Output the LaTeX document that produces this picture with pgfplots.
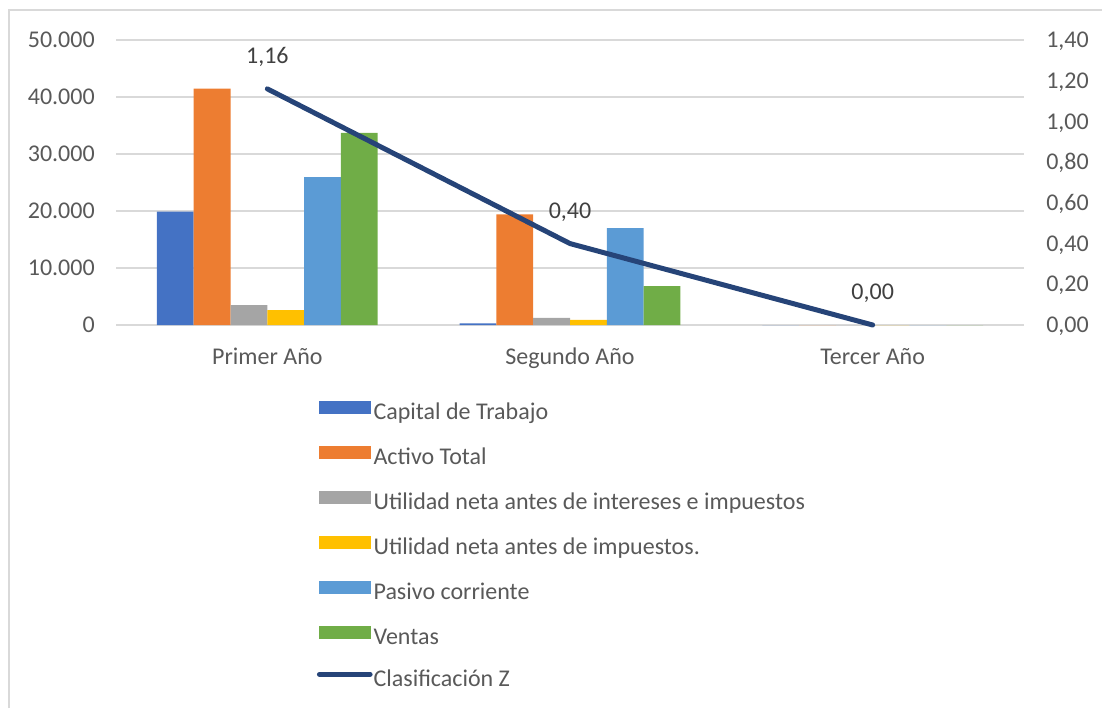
\documentclass[border=0pt]{standalone}
\usepackage{pgfplots}
\pgfplotsset{compat=1.18}
\usepackage{fontspec}
\setmainfont{Carlito}

\definecolor{cCap}{HTML}{4472C4}
\definecolor{cAct}{HTML}{ED7D31}
\definecolor{cUaii}{HTML}{A5A5A5}
\definecolor{cUai}{HTML}{FFC000}
\definecolor{cPas}{HTML}{5B9BD5}
\definecolor{cVen}{HTML}{70AD47}
\definecolor{cZ}{HTML}{264478}
\definecolor{txt}{HTML}{595959}
\definecolor{lab}{HTML}{404040}
\definecolor{gridc}{HTML}{D9D9D9}

\newcommand{\chartfont}{\fontsize{18}{21}\selectfont}

\pgfplotsset{
  /pgf/number format/assume math mode=true,
  base/.style={
    scale only axis,
    width=681pt, height=213.75pt,
    at={(87pt,287.25pt)}, anchor=south west,
    xmin=-0.5, xmax=2.5,
    axis line style={draw=none},
    major tick length=0pt,
    tick label style={color=txt, font=\chartfont},
  },
  barlegend/.style={
    legend image code/.code={\fill[##1] (0pt,0pt) rectangle (39pt,9.75pt);}},
  zlegend/.style={
    legend image code/.code={\draw[##1] (0.5pt,5pt) -- (38.5pt,5pt);}},
}

\begin{document}
\begin{tikzpicture}
\useasboundingbox (0pt,0pt) rectangle (826.5pt,531pt);
% light frame along the top and left
\draw[gridc, line width=1.5pt] (6.75pt,0pt) -- (6.75pt,523.5pt) -- (826.5pt,523.5pt);

\begin{axis}[base,
  ybar=0pt, bar width=27.6pt,
  ymin=0, ymax=50000,
  ytick={0,10000,20000,30000,40000,50000},
  scaled y ticks=false,
  yticklabel={\pgfmathprintnumber[fixed,1000 sep={.}]{\tick}},
  yticklabel style={anchor=base east, inner sep=0pt, yshift=-5.7pt},
  yticklabel shift=15.75pt,
  ymajorgrids, grid style={gridc, line width=1.1pt},
  xtick={0,1,2},
  xticklabels={Primer Año, Segundo Año, Tercer Año},
  xticklabel style={anchor=base, inner sep=0pt},
  xticklabel shift=29.6pt,
  barlegend,
  legend cell align=left,
  legend style={
    at={(0.221,-0.2656)}, anchor=north west,
    draw=none, fill=none, inner sep=0pt,
    font=\chartfont, text=txt,
    row sep=16.5pt, column sep=0.75pt,
    nodes={inner sep=0pt, text height=12pt, text depth=3pt},
  },
]
\addplot[fill=cCap, draw=none] coordinates {(0,19900) (1,300) (2,0)};
\addlegendentry{Capital de Trabajo}
\addplot[fill=cAct, draw=none] coordinates {(0,41450) (1,19400) (2,0)};
\addlegendentry{Activo Total}
\addplot[fill=cUaii, draw=none] coordinates {(0,3500) (1,1250) (2,0)};
\addlegendentry{Utilidad neta antes de intereses e impuestos}
\addplot[fill=cUai, draw=none] coordinates {(0,2600) (1,900) (2,0)};
\addlegendentry{Utilidad neta antes de impuestos.}
\addplot[fill=cPas, draw=none] coordinates {(0,25950) (1,17000) (2,0)};
\addlegendentry{Pasivo corriente}
\addplot[fill=cVen, draw=none] coordinates {(0,33700) (1,6800) (2,0)};
\addlegendentry{Ventas}
\addlegendimage{cZ, line width=3.75pt, line cap=round, zlegend}
\addlegendentry{Clasificación Z}
\end{axis}

\begin{axis}[base,
  clip=false,
  ymin=0, ymax=1.4,
  hide x axis,
  yticklabel pos=right,
  ytick={0,0.2,0.4,0.6,0.8,1.0,1.2,1.4},
  yticklabel={\pgfmathprintnumber[fixed,fixed zerofill,precision=2,use comma]{\tick}},
  yticklabel style={anchor=base west, inner sep=0pt, yshift=-5.7pt},
  yticklabel shift=16.5pt,
]
\addplot[cZ, line width=3.75pt, line cap=round, line join=round,
  nodes near coords={\pgfmathprintnumber[fixed,fixed zerofill,precision=2,use comma]{\pgfplotspointmeta}},
  every node near coord/.append style={anchor=base, inner sep=0pt, yshift=19pt,
    color=lab, font=\chartfont}]
  coordinates {(0,1.16) (1,0.40) (2,0.00)};
\end{axis}
\end{tikzpicture}
\end{document}
